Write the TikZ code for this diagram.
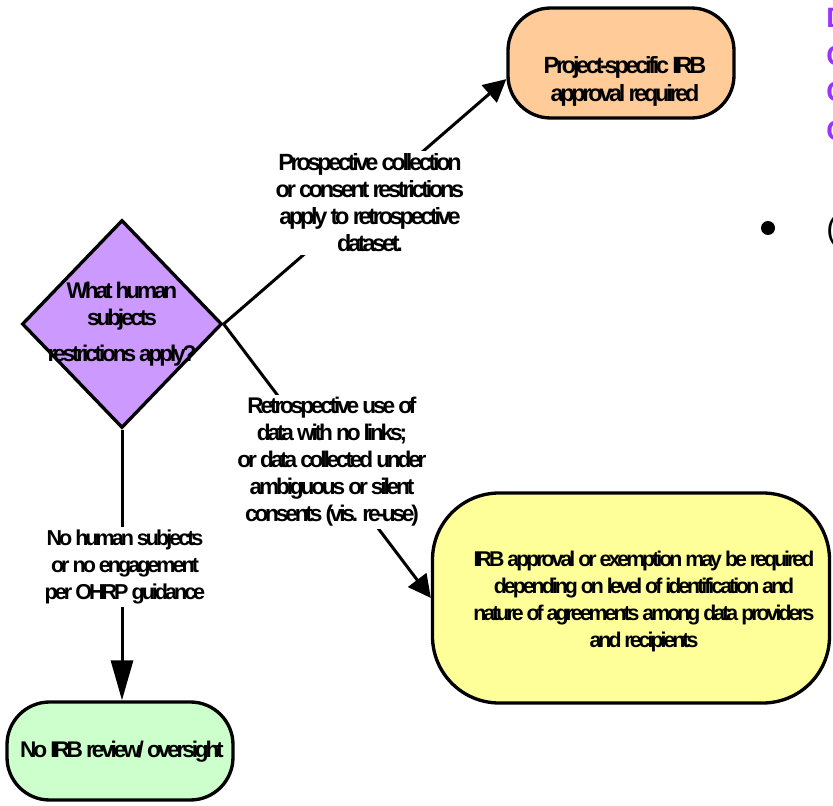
\documentclass[tikz,border=0pt]{standalone}
\usepackage{fontspec}
\setmainfont{Liberation Sans}[LetterSpace=-14]
\usetikzlibrary{shapes.geometric,arrows.meta}
\definecolor{orangefill}{HTML}{FFCC99}
\definecolor{yellowfill}{HTML}{FFFF99}
\definecolor{greenfill}{HTML}{CCFFCC}
\definecolor{violetfill}{HTML}{CC99FF}
\definecolor{purpletext}{HTML}{9933FF}
\begin{document}
\begin{tikzpicture}[x=0.75pt,y=-0.75pt,
  every node/.style={font=\bfseries\fontsize{17}{20.25}\selectfont},
  box/.style={draw, line width=2.5pt, inner sep=0pt},
  txt/.style={align=center, inner sep=0pt},
  lbl/.style={fill=white, align=center, inner sep=2pt},
  conn/.style={line width=2.25pt, -{Triangle[length=17pt,width=17pt]}},
  connlong/.style={line width=2.25pt, -{Triangle[length=30pt,width=16.5pt]}},
  side/.style={anchor=base west, inner sep=0pt, font=\bfseries\fontsize{21}{25}\selectfont, text=purpletext},
]
\useasboundingbox (0,0) rectangle (833,806);
\begin{scope}
\clip (0,0) rectangle (833,806);
% shapes
\node[box, diamond, fill=violetfill, minimum width=150pt, minimum height=156pt] (dia) at (122,324) {};
\node[txt] (diatxt) at (122,324) {What human\\subjects\\[6.5pt]restrictions apply?};
\node[box, fill=orangefill, rounded corners=32pt, minimum width=169.5pt, minimum height=82.5pt] (proj) at (621,63) {};
\node[txt, font=\bfseries\fontsize{17.6}{21}\selectfont] (projtxt) at (625,81) {Project-specific IRB\\approval required};
\node[box, fill=yellowfill, rounded corners=50pt, minimum width=297.75pt, minimum height=157.5pt] (irb) at (631,598) {};
\node[txt, font=\bfseries\fontsize{16}{20.25}\selectfont] (irbtxt) at (644,601) {IRB approval or exemption may be required\\depending on level of identification and\\nature of agreements among data providers\\and recipients};
\node[box, fill=greenfill, rounded corners=32pt, minimum width=169.5pt, minimum height=73.5pt] (noirb) at (120,751) {};
\node[txt] (noirbtxt) at (122,752) {No IRB review/ oversight};
% connectors
\draw[conn] (dia.east) -- (proj.188);
\draw[conn] (dia.east) -- (irb.west);
\draw[connlong] (dia.south) -- (dia.south |- noirb.north);
% labels
\node[lbl, font=\bfseries\fontsize{17.6}{20.25}\selectfont] (l1) at (370,203) {Prospective collection\\or consent restrictions\\apply to retrospective\\dataset.};
\node[lbl] (l2) at (332,462) {Retrospective use of\\data with no links;\\or data collected under\\ambiguous or silent\\consents (vis. re-use)};
\node[lbl, font=\bfseries\fontsize{16.2}{20.5}\selectfont] (l3) at (125,567) {No human subjects\\or no engagement\\per OHRP guidance};
% cut-off slide text at right edge
\node[side] (s1) at (826,28) {D};
\node[side] (s2) at (826,66) {C};
\node[side] (s3) at (826,102) {C};
\node[side] (s4) at (826,141) {C};
\fill (768,228) circle (7);
\node[anchor=base west, inner sep=0pt, font=\fontsize{24}{28}\selectfont] (paren) at (826,240) {(};
\end{scope}
\end{tikzpicture}
\end{document}
